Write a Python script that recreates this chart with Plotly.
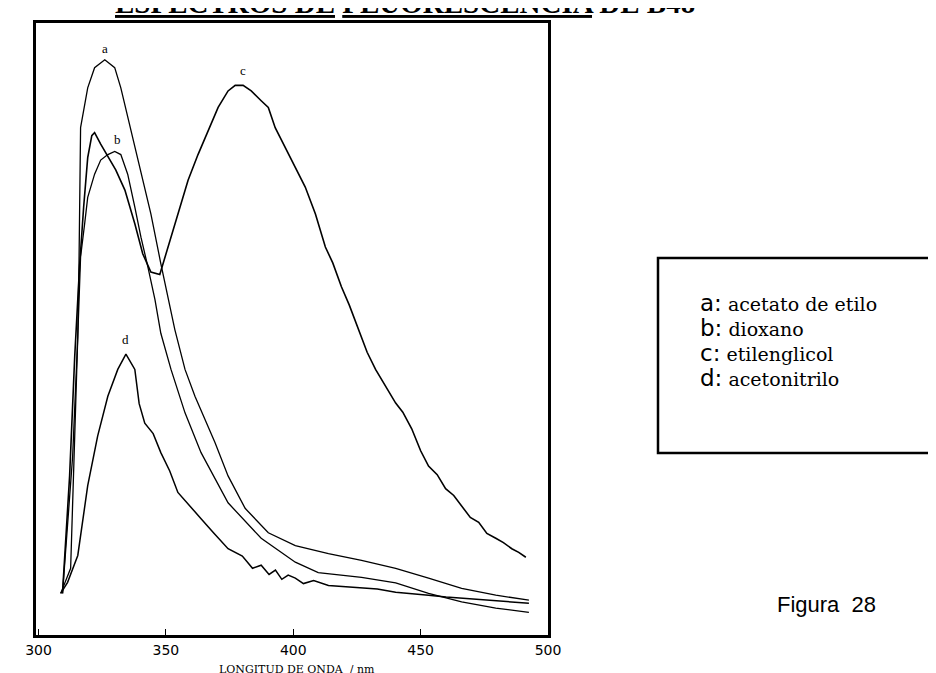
import plotly.graph_objects as go

# wavelength (nm) / relative intensity
a_nm = [308.7, 312.6, 314.2, 315.4, 315.9, 316.5, 319.3, 322.0, 326.0, 329.9, 332.3, 335.0,
        339.0, 344.1, 348.0, 353.5, 357.5, 361.4, 369.3, 374.4, 381.1, 390.2, 400.8, 413.8,
        426.8, 440.2, 453.1, 466.1, 479.5, 492.5]
a_int = [6.8, 10.9, 32.5, 48.8, 61.3, 82.9, 89.4, 92.7, 94.0, 92.7, 89.4, 84.6,
         78.0, 68.8, 60.7, 49.9, 43.4, 39.0, 31.4, 26.0, 20.7, 16.7, 14.6, 13.3,
         12.2, 10.9, 9.3, 7.6, 6.5, 5.7]

b_nm = [309.4, 313.4, 315.4, 316.5, 318.1, 319.3, 322.0, 324.4, 327.2, 329.9, 332.3, 335.0,
        337.8, 340.2, 342.9, 345.7, 348.0, 352.0, 357.5, 363.8, 374.4, 387.4, 400.8, 409.8,
        426.8, 440.2, 453.1, 466.1, 479.5, 492.5]
b_int = [6.8, 29.3, 48.8, 61.8, 67.2, 71.5, 75.3, 77.6, 78.5, 79.0, 78.5, 75.3,
         69.9, 65.0, 60.2, 54.8, 49.3, 43.4, 36.3, 29.8, 21.6, 15.8, 11.9, 10.2,
         9.4, 8.5, 6.8, 5.4, 4.4, 3.7]

c_nm = [309.4, 312.2, 314.2, 316.1, 317.7, 319.3, 320.9, 322.0, 324.4, 328.0, 330.3, 333.9,
        337.8, 340.9, 344.1, 347.6, 350.8, 354.7, 358.7, 362.6, 366.5, 370.5, 374.4, 377.2,
        380.3, 383.5, 387.4, 390.2, 392.9, 396.9, 400.8, 404.7, 408.7, 412.6, 415.5, 418.9,
        422.0, 425.6, 429.0, 432.3, 436.0, 440.2, 443.0, 446.5, 450.0, 453.1, 456.5, 459.8,
        463.0, 466.1, 469.5, 472.8, 476.0, 479.5, 482.5, 485.8, 488.5, 491.3]
c_int = [6.8, 26.0, 45.5, 60.2, 69.9, 78.0, 81.6, 82.1, 80.2, 77.6, 76.0, 72.7,
         67.2, 62.3, 59.3, 58.9, 63.4, 68.8, 74.3, 78.5, 82.4, 86.2, 88.9, 89.8,
         89.8, 88.9, 87.3, 86.2, 82.9, 79.7, 76.4, 73.2, 68.8, 63.4, 60.8, 56.9,
         53.9, 49.9, 46.2, 43.4, 40.9, 37.9, 36.4, 33.7, 30.1, 27.6, 26.2, 23.9,
         22.8, 21.1, 19.2, 18.4, 16.6, 15.8, 15.1, 14.1, 13.5, 12.7]

d_nm = [308.7, 311.4, 315.4, 319.3, 323.2, 327.2, 331.1, 334.3, 337.8, 339.5, 341.7, 345.0,
        348.0, 351.5, 354.7, 359.0, 363.8, 368.5, 374.4, 380.0, 384.0, 387.4, 390.5, 393.0,
        395.5, 398.0, 400.8, 404.0, 408.0, 413.8, 420.0, 426.8, 433.0, 440.2, 447.0, 453.1,
        460.0, 466.1, 475.0, 483.0, 492.5]
d_int = [6.8, 8.6, 13.0, 24.4, 32.5, 39.0, 43.4, 45.9, 43.4, 37.8, 34.6, 32.9,
         29.8, 26.8, 23.3, 21.2, 19.0, 16.8, 14.1, 12.9, 10.9, 11.4, 9.9, 10.6,
         9.1, 9.8, 9.3, 8.4, 8.9, 8.1, 7.9, 7.6, 7.5, 7.0, 6.8, 6.5,
         6.2, 6.0, 5.7, 5.5, 5.2]

curve_labels = ["a", "b", "c", "d"]
label_nm = [326.0, 331.1, 380.3, 334.3]
label_int = [95.9, 81.0, 92.2, 48.3]

x_ticks = [300, 350, 400, 450, 500]

legend_letters = ["a", "b", "c", "d"]
legend_names = ["acetato de etilo", "dioxano", "etilenglicol", "acetonitrilo"]

# pixel geometry of the plot frame in the 936x673 page
L, R, T, B = 28, 540, 15, 627


def px(x):
    return (x - L) / (R - L)


def py(y):
    return (B - y) / (B - T)


fig = go.Figure()
for xs, ys, w in [(a_nm, a_int, 1.3), (b_nm, b_int, 1.3), (c_nm, c_int, 1.6), (d_nm, d_int, 1.5)]:
    fig.add_trace(go.Scatter(x=xs, y=ys, mode="lines", line=dict(color="black", width=w),
                             showlegend=False, hoverinfo="skip"))

for lab, x, y in zip(curve_labels, label_nm, label_int):
    fig.add_annotation(x=x, y=y, text=lab, showarrow=False,
                       font=dict(family="Liberation Serif", size=13, color="black"))

# boxed key on the right, running off the page edge
fig.add_shape(type="rect", xref="paper", yref="paper",
              x0=px(650), x1=px(990), y0=py(445), y1=py(250),
              line=dict(color="black", width=2.5), fillcolor="white")
for i, (let, name) in enumerate(zip(legend_letters, legend_names)):
    fig.add_annotation(xref="paper", yref="paper", x=px(690), y=py(295 + 25 * i),
                       xanchor="left", yanchor="middle", showarrow=False,
                       text=f"<span style='font-family:DejaVu Sans;font-size:23px'>{let}:</span> {name}",
                       font=dict(family="DejaVu Serif", size=19, color="black"))

fig.add_annotation(xref="paper", yref="paper", x=px(767), y=py(596),
                   xanchor="left", yanchor="middle", showarrow=False,
                   text="Figura  28", font=dict(family="Liberation Sans", size=22, color="black"))

# page title, cut off by the top edge as in the scan
fig.add_annotation(xref="paper", yref="paper", x=px(105), y=py(13),
                   xanchor="left", yanchor="bottom", showarrow=False,
                   text="<b><u>ESPECTROS DE</u> <u>FLUORESCENCIA</u> DE B48</b>",
                   font=dict(family="Liberation Serif", size=29, color="black"))

fig.add_annotation(xref="paper", yref="paper", x=px(289), y=py(661),
                   xanchor="center", yanchor="middle", showarrow=False,
                   text="LONGITUD DE ONDA  / nm",
                   font=dict(family="DejaVu Serif", size=11, color="black"))

fig.update_xaxes(range=[299, 500], tickvals=x_ticks,
                 ticks="inside", ticklen=6, tickcolor="black",
                 showline=True, linecolor="black", linewidth=2.5, mirror=True,
                 showgrid=False, zeroline=False,
                 tickfont=dict(family="DejaVu Sans", size=14, color="black"))
fig.update_yaxes(range=[0, 100], showticklabels=False, ticks="",
                 showline=True, linecolor="black", linewidth=2.5, mirror=True,
                 showgrid=False, zeroline=False)

fig.update_layout(width=936, height=673, paper_bgcolor="white", plot_bgcolor="white",
                  margin=dict(l=L, r=936 - R, t=T, b=673 - B), showlegend=False)

fig.write_html("out.html")
